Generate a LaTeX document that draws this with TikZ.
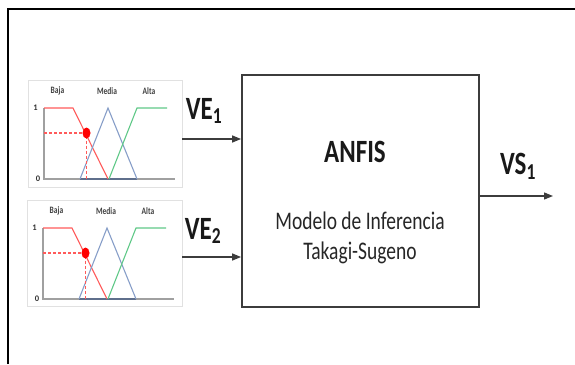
\documentclass[tikz,border=0pt]{standalone}
\usepackage{fontspec}
\setmainfont{Carlito}
\usetikzlibrary{arrows.meta}

\definecolor{rojo}{RGB}{255,90,90}
\definecolor{azul}{RGB}{135,158,200}
\definecolor{verde}{RGB}{95,200,135}
\definecolor{eje}{RGB}{160,160,160}
\definecolor{marco}{RGB}{60,60,60}
\definecolor{borde}{RGB}{225,225,225}
\newcommand{\alto}[1]{\scalebox{1}[1.3]{#1}}

\begin{document}
\begin{tikzpicture}[x=1pt,y=-1pt,
  flecha/.style={-{Triangle[length=9pt,width=7pt]},line width=1.3pt,marco},
  panel/.style={draw=borde,line width=0.6pt,inner sep=0pt},
  bloque/.style={draw=marco,line width=1.8pt,inner sep=0pt},
  nomvar/.style={font=\fontsize{25}{25}\selectfont\bfseries,text=black!90},
  conjunto/.style={font=\fontsize{7.5}{7.5}\selectfont\bfseries,text=black!75},
  grado/.style={font=\fontsize{8.5}{8.5}\selectfont\bfseries,text=black!80}]
\useasboundingbox (0,0) rectangle (575,364);

% marco exterior
\draw[line width=2pt] (7.5,364) -- (7.5,8.5) -- (575,8.5);

% graficas de pertenencia
\node[panel,minimum width=154pt,minimum height=107pt] (grafA) at (105,133.5) {};
\node[panel,minimum width=155pt,minimum height=106pt] (grafB) at (104.5,253) {};

\foreach \ox/\oy in {44/179, 43/299}{
\begin{scope}[shift={(\ox,\oy)}]
\draw[eje,line width=1.5pt] (0,-71) -- (0,0) -- (131,0);
\draw[azul!70!black,line width=1.4pt] (36,0) -- (93,0);
\draw[rojo,line width=1.1pt] (0,-71) -- (29,-71) -- (64,0);
\draw[azul,line width=1.1pt] (36,0) -- (64,-71) -- (93,0);
\draw[verde,line width=1.1pt] (65,0) -- (93,-71) -- (123,-71);
\draw[rojo,dash pattern=on 3pt off 2pt,line width=1.2pt] (0,-46) -- (42.5,-46) -- (42.5,0);
\fill[red] (42.5,-46) ellipse (4 and 5.5);

\draw (13.5,-88) node[conjunto] {\alto{Baja}};
\draw (63,-88) node[conjunto] {\alto{Media}};
\draw (105,-88) node[conjunto] {\alto{Alta}};
\draw (-8.5,-71) node[grado] {1};
\draw (-6,0) node[grado] {0};
\end{scope}
}

% bloque ANFIS
\node[bloque,minimum width=237pt,minimum height=232pt] (anfis) at (360.5,191) {};
\node[font=\fontsize{25}{25}\selectfont\bfseries,text=black!90] (titulo) at (355,152) {\alto{ANFIS}};
\node[font=\fontsize{19.5}{19.5}\selectfont,text=black!85] (modelo) at (360,221) {\alto{Modelo de Inferencia}};
\node[font=\fontsize{19.5}{19.5}\selectfont,text=black!85] (tipo) at (360,253) {\alto{Takagi-Sugeno}};

% entradas y salida
\draw[flecha] ([yshift=-5.5pt]grafA.east) coordinate (e1) -- (e1 -| anfis.west);
\draw[flecha] ([yshift=-4pt]grafB.east) coordinate (e2) -- (e2 -| anfis.west);
\coordinate (salida) at (553,196);
\draw[flecha] (salida -| anfis.east) -- (salida);

\node[nomvar] (ve1) at (204,111) {\alto{VE\textsubscript{1}}};
\node[nomvar] (ve2) at (203,231) {\alto{VE\textsubscript{2}}};
\node[nomvar] (vs1) at (518,166) {\alto{VS\textsubscript{1}}};

\end{tikzpicture}
\end{document}
